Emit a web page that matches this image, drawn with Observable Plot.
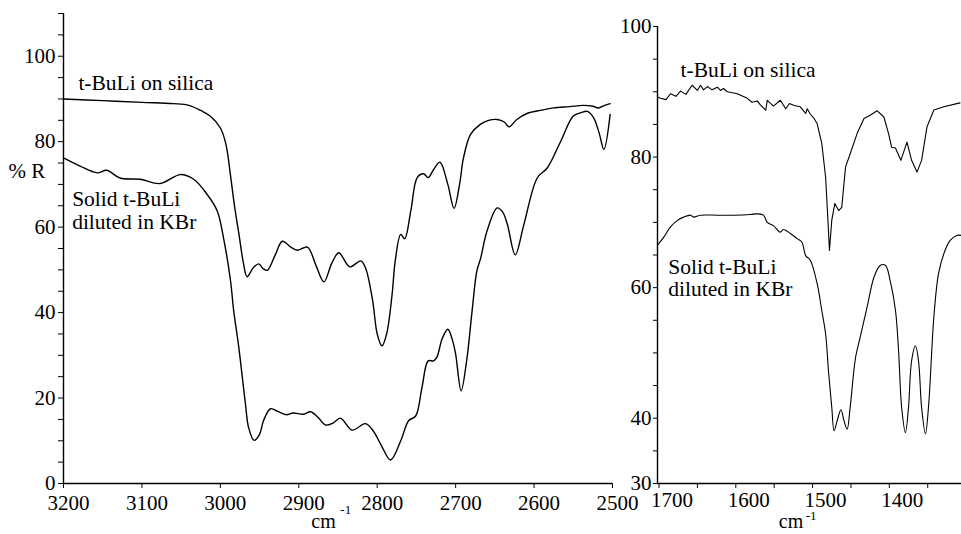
<!DOCTYPE html>
<html><head><meta charset="utf-8">
<script src="https://cdn.jsdelivr.net/npm/d3@7"></script>
<script src="https://cdn.jsdelivr.net/npm/@observablehq/plot@0.6"></script>
<style>
body{margin:0;background:#fff;}
#chart{position:relative;width:961px;height:534px;overflow:hidden;background:#fff;}
#chart svg{position:absolute;top:0;color:#000;background:transparent;overflow:visible;}
</style></head><body><div id="chart"></div>
<script>
// ---- Left panel (C-H stretch region) ----
const silicaLeftWn = [3200,3150,3100,3060,3040,3025,3013,3000,2993,2987,2982,2976,2971,2966,2958,2951,2945,2940,2930,2921,2910,2902,2889,2878,2868,2858,2849,2835,2821,2815,2806,2800,2794,2788,2781,2777,2770,2765,2757,2749,2741,2735,2728,2720,2710,2702,2695,2690,2681,2669,2658,2647,2638,2632,2622,2609,2590,2575,2555,2537,2525,2518,2510,2503];
const silicaLeftR  = [90.0,89.6,89.2,88.9,88.5,87.3,86.0,83.2,79.5,72.0,65.0,58.0,52.0,48.4,50.5,51.4,50.2,49.9,53.5,56.7,55.3,54.6,55.3,51.0,47.2,51.5,54.0,50.7,52.1,50.5,43.0,35.0,32.2,35.0,44.3,52.1,58.3,57.3,64.0,71.6,72.5,71.6,73.5,75.2,70.0,64.4,70.0,76.2,81.7,84.0,85.0,85.2,84.6,83.5,85.2,86.6,87.4,87.9,88.2,88.5,88.3,87.9,88.5,88.9];

const kbrLeftWn = [3200,3179,3157,3145,3128,3102,3077,3051,3034,3017,3004,2996,2987,2983,2977,2968,2964,2957,2950,2945,2936,2926,2916,2907,2894,2885,2875,2866,2856,2847,2832,2815,2805,2795,2783,2770,2760,2751,2743,2735,2728,2724,2717,2710,2704,2700,2693,2686,2679,2673,2668,2660,2647,2640,2634,2624,2613,2596,2583,2566,2550,2540,2532,2524,2517,2511,2503];
const kbrLeftR  = [76.2,74.3,72.7,73.3,71.5,71.2,70.2,72.3,71.2,67.7,63.8,57.5,47.4,40.4,32.6,18.6,13.1,10.1,11.5,14.7,17.5,16.8,16.1,16.5,16.2,16.8,15.4,13.7,14.2,15.3,12.5,14.0,12.3,9.0,5.5,10.0,14.7,15.8,22.4,28.7,28.7,29.5,34.0,36.1,33.5,30.3,21.7,28.7,40.4,49.7,52.8,59.1,64.5,63.5,60.6,53.5,60.6,71.5,73.9,80.1,86.0,86.8,87.1,85.6,82.0,78.2,86.4];

// ---- Right panel (deformation region) ----
const silicaRightWn = [1702,1698,1691,1685,1678,1672,1665,1657,1650,1646,1642,1637,1631,1624,1620,1616,1611,1598,1585,1579,1572,1568,1561,1559,1551,1542,1535,1530,1524,1516,1509,1507,1503,1498,1494,1488,1483,1480,1478,1475,1471,1466,1462,1457,1451,1442,1433,1425,1416,1407,1401,1397,1392,1385,1377,1371,1364,1358,1351,1342,1329,1308];
const silicaRightR  = [89.2,89.0,88.8,89.7,89.3,90.1,89.6,91.0,90.2,91.0,90.3,90.8,90.3,90.7,90.2,90.5,90.0,89.7,89.0,88.4,88.6,88.0,87.2,88.7,87.8,88.7,87.4,88.2,87.9,87.7,86.7,87.4,86.6,85.9,85.1,82.1,76.9,70.3,65.7,70.3,72.9,71.8,72.3,78.5,80.5,83.6,85.9,86.4,87.1,86.1,83.6,81.5,81.4,79.5,82.3,79.5,77.7,79.5,84.6,87.2,87.7,88.3];

const kbrRightWn = [1702,1694,1685,1676,1668,1659,1655,1646,1624,1603,1581,1572,1564,1559,1551,1542,1538,1529,1520,1514,1509,1503,1494,1488,1483,1479,1475,1472,1468,1463,1459,1455,1451,1444,1438,1429,1420,1412,1405,1399,1392,1388,1384,1379,1375,1371,1366,1362,1358,1353,1349,1342,1336,1329,1321,1312,1306];
const kbrRightR  = [66.5,67.7,69.3,70.3,70.8,71.1,70.8,71.1,71.1,71.1,71.2,71.3,71.1,70.0,69.5,68.5,68.9,68.3,67.5,67.0,64.9,64.2,60.6,56.5,52.9,46.8,41.7,38.1,39.6,41.3,39.6,38.3,41.7,49.3,52.4,57.0,61.6,63.4,63.4,61.1,56.5,50.4,41.7,37.8,41.7,48.8,51.1,48.8,41.7,37.6,41.7,55.5,62.1,65.2,67.2,68.0,68.0];

// ---- Ticks and labels ----
const leftXTicks = [3200,3100,3000,2900,2800,2700,2600,2500];
const leftYTicks = d3.range(0, 111, 5);
const leftYLabels = [0,20,40,60,80,100];
const rightXTicks = d3.range(1700, 1300, -50);
const rightXLabels = [1700,1600,1500,1400];
const rightYTicks = d3.range(30, 101, 5);
const rightYLabels = [30,40,60,80,100];
const seriesLabels = ["t-BuLi on silica", "Solid t-BuLi\ndiluted in KBr"];
const yTitle = "% R";
const xUnit = "cm";
const xUnitSup = "-1";

const serif = "Liberation Serif";
const pts = (wn, r) => wn.map((w, i) => ({wn: w, r: r[i]}));
const txt = {fontFamily: serif, fill: "black"};
const svgStyle = "font-family: 'Liberation Serif', serif; font-size: 21px; color: black; background: transparent; overflow: visible;";

const left = Plot.plot({
  width: 640, height: 534,
  marginLeft: 63, marginRight: 28, marginTop: 13, marginBottom: 51,
  style: svgStyle,
  x: {domain: [3200, 2500]},
  y: {domain: [0, 110]},
  marks: [
    Plot.ruleX([3200], {stroke: "black", strokeWidth: 1.4}),
    Plot.ruleY([0], {stroke: "black", strokeWidth: 1.4}),
    Plot.axisY(leftYTicks, {tickSize: 5, tickPadding: 3, tickFormat: d => leftYLabels.includes(d) ? `${d}` : "", label: null, fontSize: 21, ...txt}),
    Plot.axisX(leftXTicks, {tickSize: 5, tickFormat: () => "", label: null}),
    Plot.axisX(leftXTicks, {tickSize: 0, tickPadding: 12, dx: 5, tickFormat: d => `${d}`, label: null, fontSize: 21, ...txt}),
    Plot.line(pts(silicaLeftWn, silicaLeftR), {x: "wn", y: "r", curve: "catmull-rom", stroke: "black", strokeWidth: 1.4}),
    Plot.line(pts(kbrLeftWn, kbrLeftR), {x: "wn", y: "r", curve: "catmull-rom", stroke: "black", strokeWidth: 1.4}),
    Plot.text([seriesLabels[0]], {text: d => d, x: 3181, y: 93.7, textAnchor: "start", fontSize: 21.5, ...txt}),
    Plot.text([seriesLabels[1]], {text: d => d, x: 3189, y: 63.9, textAnchor: "start", fontSize: 21.5, lineHeight: 1.03, ...txt}),
    Plot.text([yTitle], {text: d => d, x: 3270, y: 73.0, textAnchor: "start", fontSize: 21, ...txt}),
    Plot.text([xUnit], {text: d => d, x: 2884, y: -9.0, textAnchor: "start", fontSize: 20, ...txt}),
    Plot.text([xUnitSup], {text: d => d, x: 2847, y: -6.1, textAnchor: "start", fontSize: 13, ...txt})
  ]
});

const right = Plot.plot({
  width: 371, height: 534,
  marginLeft: 67, marginRight: 0, marginTop: 26, marginBottom: 51,
  style: svgStyle,
  x: {domain: [1702, 1306]},
  y: {domain: [30, 100]},
  marks: [
    Plot.ruleX([1702], {stroke: "black", strokeWidth: 1.4}),
    Plot.ruleY([30], {stroke: "black", strokeWidth: 1.4}),
    Plot.axisY(rightYTicks, {tickSize: 4, tickPadding: 2, tickFormat: d => rightYLabels.includes(d) ? `${d}` : "", label: null, fontSize: 21, ...txt}),
    Plot.axisX(rightXTicks, {tickSize: 5, tickFormat: () => "", label: null}),
    Plot.axisX(rightXTicks.filter(d => rightXLabels.includes(d)), {tickSize: 0, tickPadding: 9, dx: 13, tickFormat: d => `${d}`, label: null, fontSize: 21, ...txt}),
    Plot.line(pts(silicaRightWn, silicaRightR), {x: "wn", y: "r", curve: "linear", stroke: "black", strokeWidth: 1.1}),
    Plot.line(pts(kbrRightWn, kbrRightR), {x: "wn", y: "r", curve: "catmull-rom", stroke: "black", strokeWidth: 1.1}),
    Plot.text([seriesLabels[0]], {text: d => d, x: 1672, y: 93.3, textAnchor: "start", fontSize: 21.5, ...txt}),
    Plot.text([seriesLabels[1]], {text: d => d, x: 1688, y: 61.5, textAnchor: "start", fontSize: 21.5, lineHeight: 1.03, ...txt}),
    Plot.text([xUnit], {text: d => d, x: 1544, y: 24.15, textAnchor: "start", fontSize: 20, ...txt}),
    Plot.text([xUnitSup], {text: d => d, x: 1509, y: 25.1, textAnchor: "start", fontSize: 13, ...txt})
  ]
});

left.style.left = "0px";
right.style.left = "590px";
const chart = document.getElementById("chart");
chart.appendChild(left);
chart.appendChild(right);
</script></body></html>
